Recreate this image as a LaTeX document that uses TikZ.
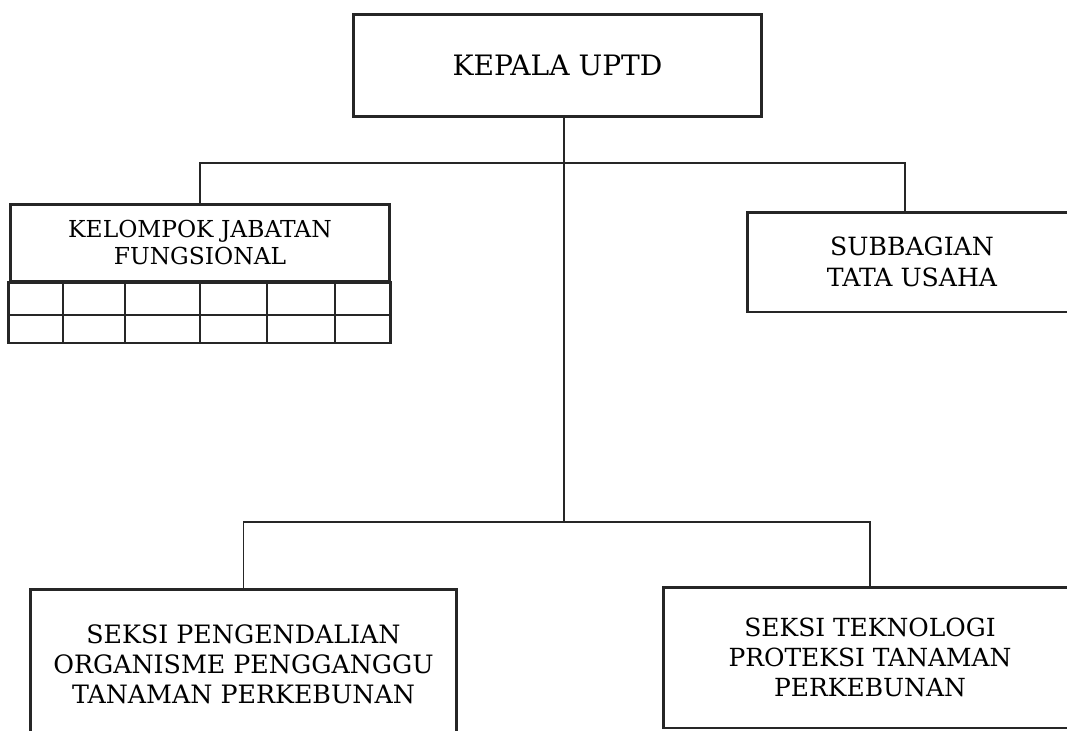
\documentclass[tikz,border=0pt]{standalone}
\usepackage{fontspec}
\setmainfont{DejaVu Serif}
\usepackage{tikz}

\tikzset{
	unitbox/.style={draw=black!85, line width=1.7pt, fill=white, align=center, inner sep=0},
	wire/.style={draw=black!85, line width=0.8pt},
	gridline/.style={draw=black!85, line width=0.8pt},
}

\begin{document}
\begin{tikzpicture}[x=0.02cm, y=-0.02cm]
	\useasboundingbox (0, 0) rectangle (1067, 730);
	\clip (0, 0) rectangle (1067, 730);
	% Boxes:
	\node[unitbox, minimum width=8.18cm, minimum height=2.06cm, font=\fontsize{16}{18}\selectfont] (kepala) at (557.5, 65.5) {KEPALA UPTD};
	\node[unitbox, minimum width=7.6cm, minimum height=1.54cm, font=\fontsize{13.3}{15.5}\selectfont] (kjf) at (200, 242.5) {KELOMPOK JABATAN\\FUNGSIONAL};
	\node[unitbox, minimum width=6.6cm, minimum height=2cm, font=\fontsize{14.3}{17.5}\selectfont] (sub) at (912, 262) {SUBBAGIAN\\TATA USAHA};
	\node[unitbox, minimum width=8.54cm, minimum height=3cm, font=\fontsize{14.4}{17}\selectfont] (pkl) at (243.5, 664) {SEKSI PENGENDALIAN\\ORGANISME PENGGANGGU\\TANAMAN PERKEBUNAN};
	\node[unitbox, minimum width=8.28cm, minimum height=2.82cm, font=\fontsize{14.2}{17}\selectfont] (tpk) at (870, 657.5) {SEKSI TEKNOLOGI\\PROTEKSI TANAMAN\\PERKEBUNAN};
	% Table under the functional group:
	\draw[gridline] (10, 315) -- (390, 315);
	\foreach \x in {63, 125, 200, 267, 335} {
		\draw[gridline] (\x, 281) -- (\x, 343);
	}
	\draw[draw=black!85, line width=1.7pt] (kjf.south west) rectangle (390, 343);
	% Wires:
	\coordinate (busA) at (564, 163);
	\coordinate (busB) at (564, 522);
	\draw[wire] (kepala.south -| busA) -- (busB);
	\draw[wire] (kjf.north) |- (busA) -| ([xshift=-0.14cm]sub.north);
	\draw[wire] (pkl.north) |- (busB) -| (tpk.north);
\end{tikzpicture}
\end{document}
